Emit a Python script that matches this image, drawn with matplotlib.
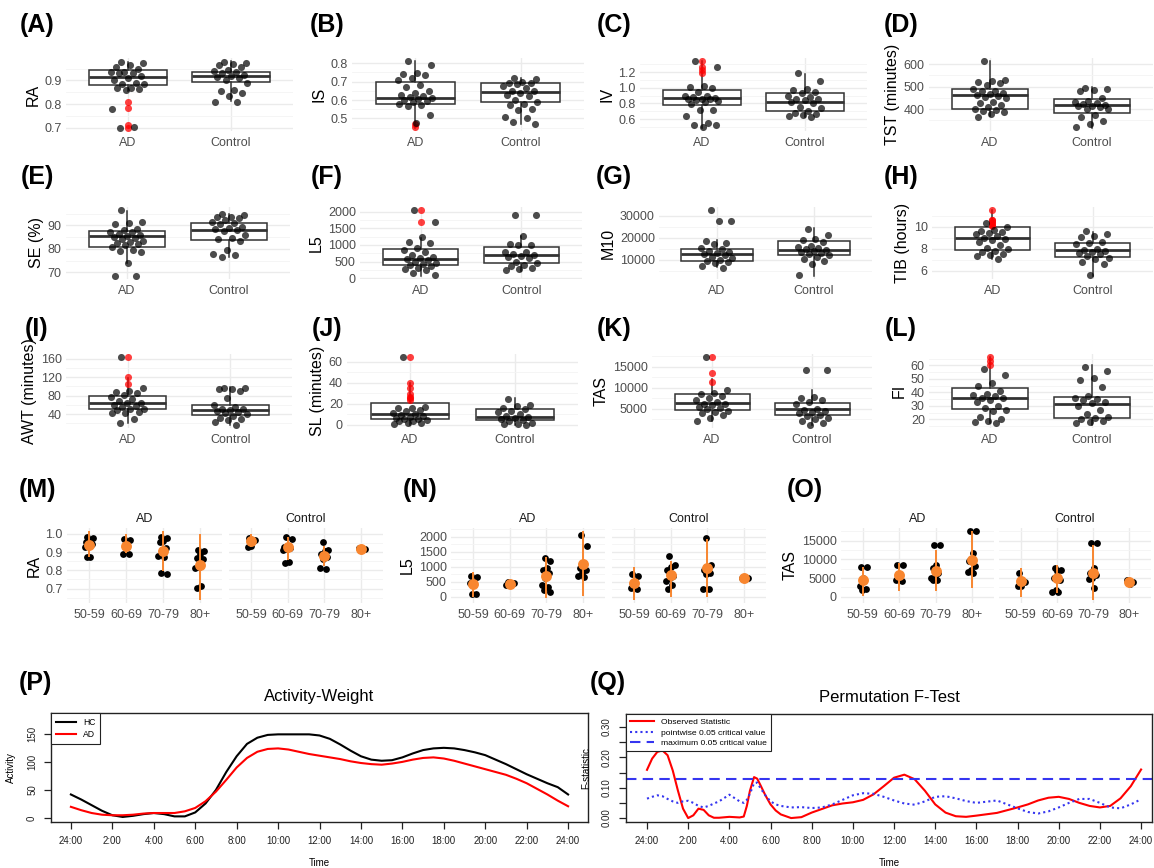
import matplotlib
matplotlib.use("Agg")
import matplotlib.pyplot as plt
from matplotlib.ticker import MultipleLocator, FormatStrFormatter

plt.rcParams['font.family'] = ['Liberation Sans', 'DejaVu Sans']

W, H = 1154, 868
ORANGE = '#F8862F'
GREY_TXT = '#4D4D4D'

# ---------------- box panels A-L ----------------
# box = [whisker low, q1, median, q3, whisker high]
ra_ad = [0.98, 0.975, 0.965, 0.955, 0.95, 0.935, 0.935, 0.93, 0.93, 0.92, 0.91, 0.90, 0.89,
         0.885, 0.885, 0.87, 0.87, 0.865, 0.86, 0.78, 0.705, 0.70]
ra_ctrl = [0.98, 0.975, 0.97, 0.965, 0.955, 0.945, 0.94, 0.935, 0.93, 0.925, 0.92, 0.915, 0.91,
           0.90, 0.89, 0.86, 0.855, 0.845, 0.835, 0.81, 0.81]
ra_ad_box = [0.855, 0.881, 0.914, 0.943, 0.98]
ra_ctrl_box = [0.814, 0.893, 0.919, 0.936, 0.981]
ra_ad_out = [0.81, 0.785, 0.71, 0.70]

is_ad = [0.81, 0.79, 0.745, 0.74, 0.738, 0.72, 0.71, 0.68, 0.668, 0.65, 0.64, 0.63, 0.62, 0.615,
         0.61, 0.605, 0.60, 0.595, 0.59, 0.58, 0.575, 0.57, 0.52, 0.475]
is_ctrl = [0.722, 0.715, 0.70, 0.695, 0.69, 0.685, 0.675, 0.665, 0.65, 0.648, 0.64, 0.63, 0.62,
           0.60, 0.59, 0.58, 0.575, 0.55, 0.545, 0.51, 0.50, 0.48, 0.47]
is_ad_box = [0.45, 0.578, 0.611, 0.698, 0.81]
is_ctrl_box = [0.47, 0.587, 0.646, 0.693, 0.72]
is_ad_out = [0.468, 0.452]

iv_ad = [1.337, 1.27, 1.02, 1.01, 1.0, 0.95, 0.9, 0.89, 0.88, 0.87, 0.86, 0.86, 0.85, 0.84, 0.83,
         0.82, 0.79, 0.72, 0.72, 0.64, 0.55, 0.52, 0.52, 0.50]
iv_ctrl = [1.19, 1.08, 0.98, 0.965, 0.95, 0.93, 0.90, 0.88, 0.86, 0.85, 0.84, 0.82, 0.80, 0.76,
           0.74, 0.70, 0.68, 0.66, 0.65, 0.64, 0.62]
iv_ad_box = [0.49, 0.784, 0.865, 0.973, 1.337]
iv_ctrl_box = [0.62, 0.697, 0.82, 0.933, 1.18]
iv_ad_out = [1.337, 1.27, 1.23, 1.187]

tst_ad = [612, 530, 525, 520, 515, 505, 490, 480, 478, 472, 468, 462, 458, 455, 450, 430, 425,
          418, 410, 402, 395, 390, 385, 380, 365]
tst_ctrl = [495, 490, 485, 480, 447, 436, 432, 428, 422, 418, 415, 412, 408, 402, 398, 372, 365,
            345, 335, 320]
tst_ad_box = [370, 400, 461, 491, 612]
tst_ctrl_box = [317, 382, 418, 445, 498]
tst_ad_out = []

se_ad = [96.5, 91.5, 91, 90.5, 88.5, 88, 87.2, 87, 86.5, 86, 85.5, 85, 84.5, 84, 83.5, 83, 82.5,
         82, 81.5, 81, 79.5, 79, 78.5, 74, 68.5, 68.5]
se_ctrl = [95, 94.5, 93.8, 93.5, 93, 92.2, 91.5, 91, 90.5, 89.5, 89, 88.5, 88, 87.8, 86, 84.5,
           84, 83.5, 79.5, 78, 77.5, 76.5]
se_ad_box = [74, 81, 85.3, 87.6, 96.4]
se_ctrl_box = [76.4, 83.9, 88.1, 91.1, 95]
se_ad_out = []

l5_ad = [2050, 1700, 1230, 1100, 1050, 920, 850, 800, 700, 650, 600, 575, 560, 500, 450, 430,
         400, 350, 300, 280, 250, 150, 80]
l5_ctrl = [1900, 1900, 1280, 1020, 1000, 990, 800, 780, 720, 700, 680, 650, 600, 500, 450, 380,
           350, 300, 260, 240]
l5_ad_box = [70, 400, 570, 870, 1220]
l5_ctrl_box = [220, 460, 690, 940, 1280]
l5_ad_out = [2050, 1700]

m10_ad = [32500, 27500, 27500, 18500, 17500, 17000, 15500, 15000, 14000, 13500, 13000, 12500,
          12000, 11500, 11000, 10000, 9500, 9000, 8500, 7000, 6500]
m10_ctrl = [24000, 21500, 19500, 19000, 18000, 16500, 16000, 15500, 15000, 14500, 14000, 13500,
            13000, 12500, 12000, 11500, 10500, 9500, 8200, 3000]
m10_ad_box = [6600, 9700, 12800, 15100, 18900]
m10_ctrl_box = [2800, 12300, 14600, 18500, 24300]
m10_ad_out = []

tib_ad = [10.3, 10.0, 9.7, 9.6, 9.5, 9.4, 9.3, 9.2, 9.0, 8.9, 8.8, 8.6, 8.3, 8.1, 8.0, 7.8, 7.7,
          7.5, 7.4, 7.3, 7.1]
tib_ctrl = [9.6, 9.3, 9.2, 9.1, 8.6, 8.5, 8.4, 8.0, 7.9, 7.8, 7.7, 7.6, 7.5, 7.3, 7.2, 7.1, 6.8,
            6.6, 5.6]
tib_ad_box = [7.1, 7.9, 9.0, 9.94, 11.5]
tib_ctrl_box = [5.55, 7.29, 7.85, 8.52, 9.55]
tib_ad_out = [11.5, 10.6, 10.6, 10.4, 10.3, 10.2, 10.1]

awt_ad = [163, 97, 90, 88, 85, 82, 77, 73, 68, 65, 63, 60, 58, 55, 52, 50, 48, 45, 43, 42, 30, 20]
awt_ctrl = [97, 96, 95, 95, 90, 75, 60, 55, 52, 50, 48, 46, 44, 42, 40, 36, 32, 30, 28, 22, 17]
awt_ad_box = [20, 50, 63.5, 80, 118]
awt_ctrl_box = [17, 37, 49, 60, 98]
awt_ad_out = [163, 120, 105]

sl_ad = [64, 17, 16, 16, 14, 13, 11, 10, 9, 8, 7, 6, 5, 5, 4, 3, 3, 2, 2, 1]
sl_ctrl = [24, 19, 18, 16, 15, 13, 12, 10, 8, 7, 6, 5, 4, 3, 2, 1, 1, 0]
sl_ad_box = [0, 5.6, 9.9, 20.5, 40]
sl_ctrl_box = [0, 4, 7.3, 14.5, 25]
sl_ad_out = [64, 40, 35, 29, 26, 25, 23]

tas_ad = [17200, 9500, 8700, 8500, 8000, 7500, 7000, 6500, 6200, 6000, 5800, 5500, 5200, 5000,
          4500, 4300, 4000, 3500, 2800, 2000]
tas_ctrl = [14300, 14300, 7700, 7500, 7100, 6500, 6000, 5000, 4600, 4400, 4200, 4000, 3500, 3200,
            2800, 2500, 2000, 1500, 1200]
tas_ad_box = [2000, 4750, 6390, 8440, 12000]
tas_ctrl_box = [1200, 3520, 4920, 6390, 9400]
tas_ad_out = [17200, 13400, 11300]

fi_ad = [57, 53, 47, 45, 41, 39, 38, 37, 36, 35.5, 34, 33, 30, 28, 27, 26, 22, 20, 19, 18, 17]
fi_ctrl = [59, 56, 51, 49, 44, 37, 36, 35, 34, 33, 32, 30, 27, 24, 22, 21, 20, 19, 18, 17]
fi_ad_box = [17.5, 27.6, 35.7, 43.5, 66]
fi_ctrl_box = [16, 21.3, 31.4, 36.5, 60]
fi_ad_out = [66, 63, 60]

groups = ['AD', 'Control']

# ---------------- age panels M-O ----------------
age_groups = ['50-59', '60-69', '70-79', '80+']

m_ad_pts = [[0.985, 0.975, 0.965, 0.955, 0.945, 0.935, 0.93, 0.875, 0.875],
            [0.972, 0.965, 0.93, 0.89, 0.89],
            [0.985, 0.975, 0.96, 0.955, 0.92, 0.91, 0.88, 0.875, 0.785, 0.78],
            [0.91, 0.905, 0.89, 0.87, 0.86, 0.82, 0.815, 0.715, 0.705]]
m_ad_mean = [0.94, 0.935, 0.907, 0.828]
m_ad_lo = [0.873, 0.895, 0.795, 0.64]
m_ad_hi = [1.013, 1.0, 1.013, 1.0]
m_ct_pts = [[0.975, 0.965, 0.935, 0.93],
            [0.982, 0.97, 0.935, 0.925, 0.92, 0.915, 0.91, 0.845, 0.84],
            [0.953, 0.91, 0.905, 0.89, 0.875, 0.86, 0.815, 0.81],
            [0.92, 0.915]]
m_ct_mean = [0.958, 0.925, 0.88, 0.916]
m_ct_lo = [0.927, 0.858, 0.822, 0.916]
m_ct_hi = [1.0, 0.985, 0.935, 0.916]

n_ad_pts = [[700, 660, 480, 450, 100, 80],
            [480, 450, 400, 390],
            [1300, 1180, 940, 880, 800, 635, 390, 330, 210, 150],
            [2050, 1700, 1000, 950, 900, 800, 700, 650]]
n_ad_mean = [415, 427, 695, 1100]
n_ad_lo = [0, 320, -40, 20]
n_ad_hi = [820, 520, 1340, 2180]
n_ct_pts = [[760, 700, 365, 300, 245],
            [1370, 1060, 1000, 880, 700, 635, 535, 390, 270],
            [1975, 1060, 950, 880, 800, 760, 245, 245],
            [635, 620]]
n_ct_mean = [450, 730, 965, 635]
n_ct_lo = [-100, 0, 0, 635]
n_ct_hi = [1000, 1180, 1915, 635]

o_ad_pts = [[8000, 8000, 4900, 3000, 2000, 1900],
            [8400, 8400, 5800, 4400, 4300],
            [13800, 13800, 8400, 7700, 6300, 5300, 4900, 4400, 4400],
            [17500, 17500, 11600, 9600, 8200, 7300, 6700, 6500]]
o_ad_mean = [4400, 5800, 6900, 9750]
o_ad_lo = [200, 1600, 1600, 2250]
o_ad_hi = [7900, 9100, 12600, 17500]
o_ct_pts = [[6500, 4000, 3000, 2800],
            [7700, 7200, 7000, 4900, 4400, 1900, 1400, 1400],
            [14300, 14300, 7700, 6500, 5800, 5100, 4700, 2250],
            [4400, 3900, 3500]]
o_ct_mean = [4100, 4900, 6500, 3900]
o_ct_lo = [0, 1100, -750, 3000]
o_ct_hi = [7700, 8400, 13800, 5100]

# ---------------- P: activity curves ----------------
p_time = [h / 2 for h in range(49)]
p_hc = [42, 33, 23, 13, 5, 2, 4, 7, 9, 7, 3, 3, 10, 26, 50, 82, 110, 132, 143, 148, 149, 149,
        149, 149, 147, 141, 131, 120, 110, 104, 102, 103, 108, 115, 121, 124, 125, 124, 121, 117,
        112, 104, 96, 87, 78, 70, 62, 55, 42]
p_ad = [20, 14, 9, 6, 5, 5, 6, 8, 9, 9, 9, 12, 18, 30, 47, 68, 90, 107, 118, 123, 124, 122, 118,
        114, 111, 108, 105, 101, 98, 96, 95, 97, 100, 104, 107, 108, 106, 102, 97, 92, 87, 82, 77,
        70, 62, 52, 42, 31, 21]

# ---------------- Q: permutation F-test ----------------
q_time = [0, 0.25, 0.5, 0.75, 1, 1.25, 1.5, 1.75, 2, 2.25, 2.5, 2.75, 3, 3.25, 3.5, 4, 4.5, 4.7,
          4.85, 5, 5.2, 5.35, 5.5, 5.75, 6, 6.25, 6.5, 7, 7.5, 8, 8.5, 9, 9.5, 10, 10.5, 11, 11.5,
          12, 12.5, 13, 13.5, 14, 14.5, 15, 15.5, 16, 17, 18, 18.5, 19, 19.5, 20, 20.5, 21, 21.5,
          22, 22.5, 23, 23.5, 24]
q_obs = [0.159, 0.196, 0.218, 0.223, 0.207, 0.157, 0.091, 0.031, 0.0, 0.009, 0.031, 0.027, 0.009,
         0.001, 0.001, 0.004, 0.002, 0.005, 0.04, 0.09, 0.135, 0.13, 0.11, 0.075, 0.045, 0.025,
         0.012, 0.0, 0.003, 0.018, 0.03, 0.042, 0.048, 0.052, 0.06, 0.078, 0.105, 0.133, 0.143,
         0.128, 0.09, 0.045, 0.018, 0.006, 0.004, 0.008, 0.017, 0.035, 0.045, 0.058, 0.067, 0.07,
         0.063, 0.05, 0.04, 0.035, 0.04, 0.065, 0.105, 0.16]
q_point = [0.064, 0.07, 0.075, 0.072, 0.063, 0.055, 0.05, 0.055, 0.057, 0.05, 0.04, 0.035, 0.04,
           0.048, 0.055, 0.077, 0.055, 0.05, 0.06, 0.08, 0.115, 0.117, 0.1, 0.075, 0.055, 0.045,
           0.04, 0.035, 0.036, 0.033, 0.035, 0.045, 0.06, 0.075, 0.082, 0.08, 0.07, 0.058, 0.048,
           0.044, 0.055, 0.07, 0.072, 0.065, 0.056, 0.05, 0.058, 0.032, 0.02, 0.015, 0.022, 0.035,
           0.05, 0.063, 0.063, 0.05, 0.035, 0.032, 0.045, 0.062]
q_max = 0.13

hour_ticks = list(range(0, 25, 2))
hour_labels = ['24:00'] + ['%d:00' % h for h in range(2, 24, 2)] + ['24:00']


fig = plt.figure(figsize=(W / 100, H / 100), dpi=100)


def add_ax(l, t, r, b):
    return fig.add_axes([l / W, 1 - b / H, (r - l) / W, (b - t) / H])


def jit(n, w=0.17):
    return [((i * 0.618034 + 0.31) % 1 - 0.5) * 2 * w for i in range(n)]


def gg_style(ax, step, fmt, show_y=True):
    ax.set_axisbelow(True)
    for s in ax.spines.values():
        s.set_visible(False)
    ax.yaxis.set_major_locator(MultipleLocator(step))
    ax.yaxis.set_minor_locator(MultipleLocator(step / 2))
    ax.yaxis.set_major_formatter(FormatStrFormatter(fmt))
    ax.grid(which='major', color='#EBEBEB', lw=1.0)
    ax.grid(which='minor', axis='y', color='#F4F4F4', lw=0.6)
    ax.tick_params(which='both', length=0, labelsize=9, colors=GREY_TXT)
    ax.tick_params(axis='x', pad=4)
    ax.tick_params(axis='y', pad=3, labelleft=show_y)


def box_panel(rect, ylab, ad, ct, ad_box, ct_box, ad_out, step, fmt):
    ax = add_ax(*rect)
    stats = [dict(whislo=b[0], q1=b[1], med=b[2], q3=b[3], whishi=b[4], fliers=[])
             for b in (ad_box, ct_box)]
    ax.bxp(stats, positions=[1, 2], widths=0.75, showfliers=False, showcaps=False,
           patch_artist=True,
           boxprops=dict(facecolor='white', edgecolor='#333333', linewidth=1.1),
           medianprops=dict(color='#333333', linewidth=2.0),
           whiskerprops=dict(color='#333333', linewidth=1.1))
    if ad_out:
        ax.scatter([1] * len(ad_out), ad_out, s=26, color='red', alpha=0.75, lw=0, zorder=3)
    for x0, pts in ((1, ad), (2, ct)):
        ax.scatter([x0 + d for d in jit(len(pts))], pts, s=26, color='black', alpha=0.7,
                   lw=0, zorder=4)
    allv = ad + ct + ad_box + ct_box + ad_out
    lo, hi = min(allv), max(allv)
    pad = 0.05 * (hi - lo)
    ax.set_ylim(lo - pad, hi + pad)
    ax.set_xlim(0.4, 2.6)
    ax.set_xticks([1, 2])
    ax.set_xticklabels(groups)
    gg_style(ax, step, fmt)
    ax.set_ylabel(ylab, fontsize=11.5, labelpad=3)
    return ax


box_specs = [
    ('RA', ra_ad, ra_ctrl, ra_ad_box, ra_ctrl_box, ra_ad_out, 0.1, '%.1f', (66, 58, 293, 131)),
    ('IS', is_ad, is_ctrl, is_ad_box, is_ctrl_box, is_ad_out, 0.1, '%.1f', (352, 58, 584, 131)),
    ('IV', iv_ad, iv_ctrl, iv_ad_box, iv_ctrl_box, iv_ad_out, 0.2, '%.1f', (640, 58, 867, 131)),
    ('TST (minutes)', tst_ad, tst_ctrl, tst_ad_box, tst_ctrl_box, tst_ad_out, 100, '%d',
     (929, 58, 1153, 131)),
    ('SE (%)', se_ad, se_ctrl, se_ad_box, se_ctrl_box, se_ad_out, 10, '%d', (66, 207, 290, 279)),
    ('L5', l5_ad, l5_ctrl, l5_ad_box, l5_ctrl_box, l5_ad_out, 500, '%d', (360, 207, 582, 279)),
    ('M10', m10_ad, m10_ctrl, m10_ad_box, m10_ctrl_box, m10_ad_out, 10000, '%d',
     (659, 207, 872, 279)),
    ('TIB (hours)', tib_ad, tib_ctrl, tib_ad_box, tib_ctrl_box, tib_ad_out, 2, '%d',
     (932, 207, 1153, 279)),
    ('AWT (minutes)', awt_ad, awt_ctrl, awt_ad_box, awt_ctrl_box, awt_ad_out, 40, '%d',
     (66, 354, 292, 428)),
    ('SL (minutes)', sl_ad, sl_ctrl, sl_ad_box, sl_ctrl_box, sl_ad_out, 20, '%d',
     (347, 354, 578, 428)),
    ('TAS', tas_ad, tas_ctrl, tas_ad_box, tas_ctrl_box, tas_ad_out, 5000, '%d',
     (652, 354, 872, 428)),
    ('FI', fi_ad, fi_ctrl, fi_ad_box, fi_ctrl_box, fi_ad_out, 10, '%d', (929, 354, 1153, 428)),
]
for spec in box_specs:
    box_panel(spec[8], *spec[:8])


def age_facet(ax, pts, mean, lo, hi, title, step, fmt, ylim, show_y):
    for i, grp in enumerate(pts):
        ax.scatter([i + 1 + d for d in jit(len(grp), 0.13)], grp, s=24, color='black', lw=0,
                   zorder=3)
    xs = list(range(1, len(mean) + 1))
    ax.vlines(xs, lo, hi, color=ORANGE, lw=1.4, zorder=4)
    ax.scatter(xs, mean, s=62, color=ORANGE, lw=0, zorder=5)
    ax.set_xlim(0.4, len(mean) + 0.6)
    ax.set_ylim(*ylim)
    ax.set_xticks(xs)
    ax.set_xticklabels(age_groups)
    gg_style(ax, step, fmt, show_y)
    ax.set_title(title, fontsize=9, color='#1A1A1A', pad=4)


def age_panel(rects, ylab, ad, ct, step, fmt):
    allv = [v for g in ad[0] + ct[0] for v in g] + ad[2] + ad[3] + ct[2] + ct[3]
    lo, hi = min(allv), max(allv)
    pad = 0.05 * (hi - lo)
    ylim = (lo - pad, hi + pad)
    ax1 = add_ax(*rects[0])
    age_facet(ax1, *ad, 'AD', step, fmt, ylim, True)
    ax1.set_ylabel(ylab, fontsize=11.5, labelpad=3)
    ax2 = add_ax(*rects[1])
    age_facet(ax2, *ct, 'Control', step, fmt, ylim, False)


age_panel([(67, 528, 222, 603), (229, 528, 383, 603)], 'RA',
          (m_ad_pts, m_ad_mean, m_ad_lo, m_ad_hi), (m_ct_pts, m_ct_mean, m_ct_lo, m_ct_hi),
          0.1, '%.1f')
age_panel([(451, 528, 605, 603), (612, 528, 766, 603)], 'L5',
          (n_ad_pts, n_ad_mean, n_ad_lo, n_ad_hi), (n_ct_pts, n_ct_mean, n_ct_lo, n_ct_hi),
          500, '%d')
age_panel([(841, 528, 994, 603), (999, 528, 1151, 603)], 'TAS',
          (o_ad_pts, o_ad_mean, o_ad_lo, o_ad_hi), (o_ct_pts, o_ct_mean, o_ct_lo, o_ct_hi),
          5000, '%d')


def base_r(ax, title, ylab, xlim):
    for s in ax.spines.values():
        s.set_linewidth(1.0)
        s.set_color('#222222')
    ax.set_xlim(*xlim)
    ax.set_xticks(hour_ticks)
    ax.set_xticklabels(hour_labels)
    ax.tick_params(direction='out', length=5, width=0.9, labelsize=7, pad=5, colors='#222222')
    for lab in ax.get_yticklabels():
        lab.set_rotation(90)
        lab.set_va('center')
    ax.set_title(title, fontsize=12, pad=9)
    ax.set_xlabel('Time', fontsize=7, labelpad=9)
    ax.set_ylabel(ylab, fontsize=7, labelpad=8)


axp = add_ax(51, 713, 588, 822)
axp.plot(p_time, p_hc, color='black', lw=1.5, label='HC')
axp.plot(p_time, p_ad, color='red', lw=1.5, label='AD')
axp.set_ylim(-7, 187)
axp.set_yticks([0, 50, 100, 150])
base_r(axp, 'Activity-Weight', 'Activity', (-0.96, 24.96))
leg = axp.legend(loc='upper left', bbox_to_anchor=(0, 1), borderaxespad=0, fancybox=False,
                 edgecolor='#222222', fontsize=6.2, handlelength=2.3, labelspacing=0.3,
                 borderpad=0.6, framealpha=1)
leg.get_frame().set_linewidth(0.8)

axq = add_ax(626, 714, 1152, 822)
axq.plot(q_time, q_obs, color='red', lw=1.5, label='Observed Statistic')
axq.plot(q_time, q_point, color='#3535F0', lw=1.5, ls=(0, (1, 1.5)),
         label='pointwise 0.05 critical value')
axq.axhline(q_max, color='#3535F0', lw=1.5, ls=(0, (5, 3)), label='maximum 0.05 critical value')
axq.set_ylim(-0.013, 0.343)
axq.set_yticks([0, 0.05, 0.10, 0.15, 0.20, 0.25, 0.30])
axq.set_yticklabels(['0.00', '', '0.10', '', '0.20', '', '0.30'])
base_r(axq, 'Permutation F-Test', 'F-statistic', (-1.02, 24.53))
leg = axq.legend(loc='upper left', bbox_to_anchor=(0, 1), borderaxespad=0, fancybox=False,
                 edgecolor='#222222', fontsize=6.1, handlelength=2.8, labelspacing=0.3,
                 borderpad=0.5, framealpha=1)
leg.get_frame().set_linewidth(0.8)

# panel letters
letters = [('(A)', 37, 25), ('(B)', 327, 25), ('(C)', 614, 25), ('(D)', 901, 25),
           ('(E)', 37, 177), ('(F)', 327, 177), ('(G)', 614, 177), ('(H)', 901, 177),
           ('(I)', 37, 329), ('(J)', 327, 329), ('(K)', 614, 329), ('(L)', 901, 329),
           ('(M)', 37, 490), ('(N)', 420, 490), ('(O)', 805, 490),
           ('(P)', 35, 683), ('(Q)', 608, 683)]
for txt, x, y in letters:
    fig.text(x / W, 1 - y / H, txt, fontsize=18, fontweight='bold', ha='center', va='center')

fig.savefig('out.png', dpi=100)
